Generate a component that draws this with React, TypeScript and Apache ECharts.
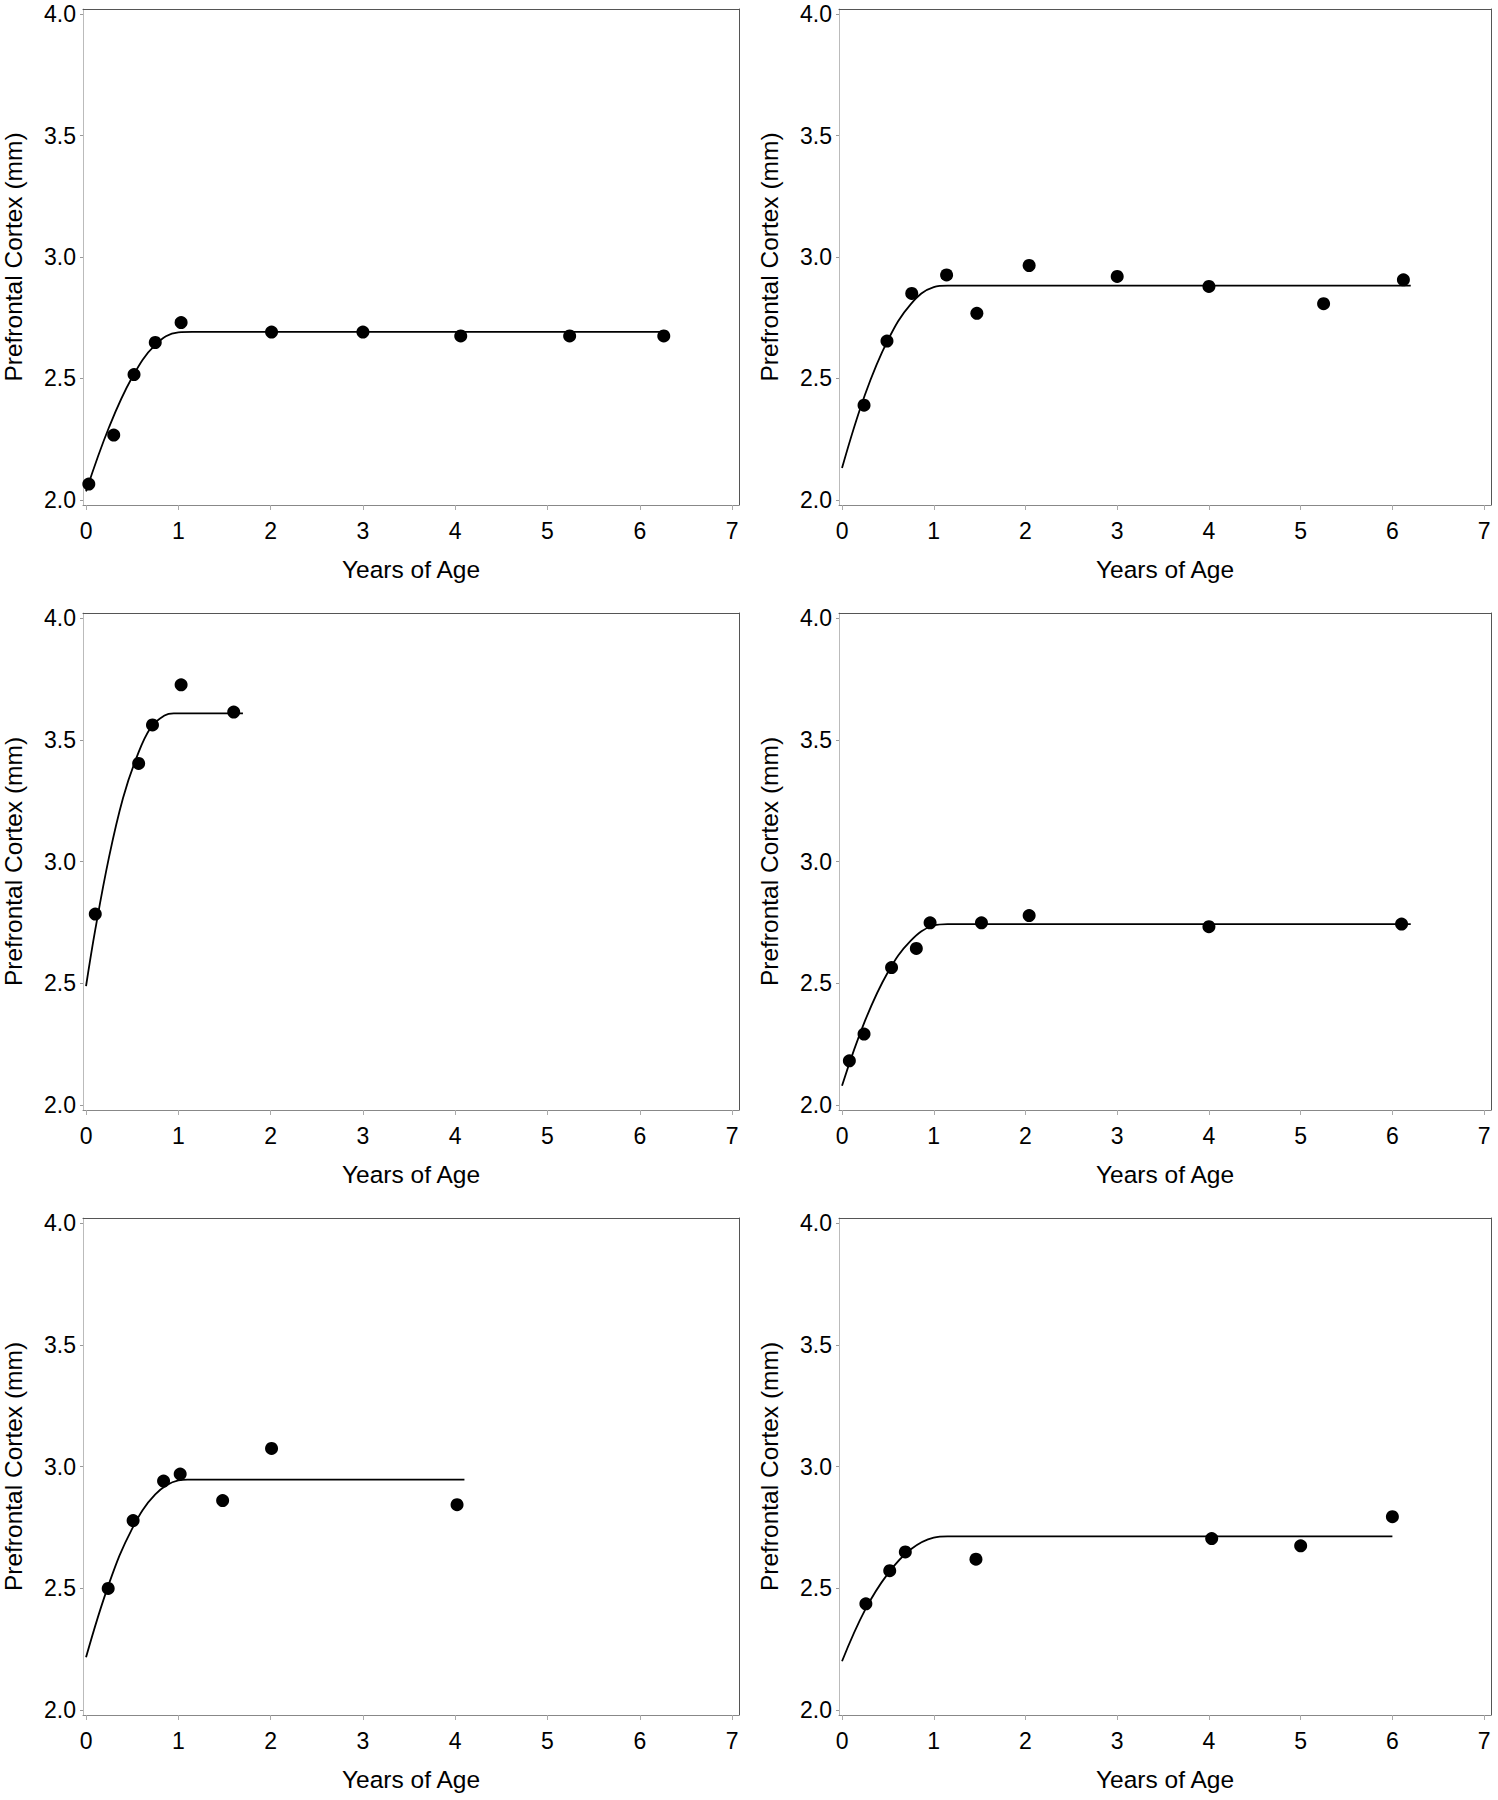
import React, { useEffect, useRef } from "react";
import * as echarts from "echarts";

const xTicks = [0, 1, 2, 3, 4, 5, 6, 7];
const yTicks = [2.0, 2.5, 3.0, 3.5, 4.0];
const xTitle = "Years of Age";
const yTitle = "Prefrontal Cortex (mm)";

// Panel A (top-left)
const agesA = [0.03, 0.3, 0.52, 0.75, 1.03, 2.01, 3.0, 4.06, 5.24, 6.26];
const cortexA = [2.065, 2.267, 2.516, 2.648, 2.73, 2.691, 2.691, 2.675, 2.675, 2.675];
const fitAgesA = [0, 0.25, 0.5, 0.75, 1.0, 1.15, 6.3];
const fitA = [2.035, 2.3, 2.505, 2.638, 2.69, 2.692, 2.692];

// Panel B (top-right)
const agesB = [0.24, 0.49, 0.76, 1.14, 1.47, 2.04, 3.0, 4.0, 5.25, 6.12];
const cortexB = [2.39, 2.654, 2.85, 2.926, 2.768, 2.965, 2.92, 2.879, 2.808, 2.906];
const fitAgesB = [0, 0.25, 0.5, 0.75, 1.0, 1.15, 6.2];
const fitB = [2.131, 2.433, 2.658, 2.806, 2.876, 2.882, 2.882];

// Panel C (middle-left)
const agesC = [0.1, 0.57, 0.72, 1.03, 1.6];
const cortexC = [2.784, 3.403, 3.561, 3.726, 3.614];
const fitAgesC = [0, 0.1, 0.25, 0.4, 0.55, 0.7, 0.85, 0.95, 1.7];
const fitC = [2.488, 2.72, 3.02, 3.26, 3.43, 3.55, 3.6, 3.609, 3.609];

// Panel D (middle-right)
const agesD = [0.08, 0.24, 0.54, 0.81, 0.96, 1.52, 2.04, 4.0, 6.1];
const cortexD = [2.181, 2.291, 2.564, 2.643, 2.748, 2.748, 2.778, 2.732, 2.743];
const fitAgesD = [0, 0.25, 0.5, 0.75, 1.0, 1.15, 6.2];
const fitD = [2.079, 2.345, 2.545, 2.675, 2.737, 2.743, 2.743];

// Panel E (bottom-left)
const agesE = [0.24, 0.51, 0.84, 1.02, 1.48, 2.01, 4.02];
const cortexE = [2.499, 2.778, 2.94, 2.969, 2.86, 3.074, 2.843];
const fitAgesE = [0, 0.25, 0.5, 0.75, 1.0, 1.1, 4.1];
const fitE = [2.216, 2.52, 2.745, 2.885, 2.943, 2.946, 2.946];

// Panel F (bottom-right)
const agesF = [0.26, 0.52, 0.69, 1.46, 4.03, 5.0, 6.0];
const cortexF = [2.436, 2.572, 2.649, 2.619, 2.704, 2.674, 2.794];
const fitAgesF = [0, 0.25, 0.5, 0.75, 1.0, 1.15, 6.0];
const fitF = [2.2, 2.41, 2.56, 2.66, 2.708, 2.713, 2.713];

const panels = [
  { ages: agesA, vals: cortexA, fx: fitAgesA, fy: fitA },
  { ages: agesB, vals: cortexB, fx: fitAgesB, fy: fitB },
  { ages: agesC, vals: cortexC, fx: fitAgesC, fy: fitC },
  { ages: agesD, vals: cortexD, fx: fitAgesD, fy: fitD },
  { ages: agesE, vals: cortexE, fx: fitAgesE, fy: fitE },
  { ages: agesF, vals: cortexF, fx: fitAgesF, fy: fitF },
];

const COLS = [
  { left: 83, width: 656 },
  { left: 839, width: 652 },
];
const ROWS = [
  { top: 9, height: 496 },
  { top: 613, height: 497 },
  { top: 1218, height: 497 },
];

const FONT = "Liberation Sans, Arial, sans-serif";
const X_MIN = -0.033;
const X_MAX = 7.075;
const Y_MIN = 1.979;
const Y_MAX = 4.021;

function buildOption() {
  const grid: any[] = [];
  const xAxis: any[] = [];
  const yAxis: any[] = [];
  const series: any[] = [];
  panels.forEach((p, i) => {
    const col = COLS[i % 2];
    const row = ROWS[Math.floor(i / 2)];
    grid.push({ left: col.left, width: col.width, top: row.top, height: row.height, show: false });
    xAxis.push({
      type: "value",
      gridIndex: i,
      min: X_MIN,
      max: X_MAX,
      position: "bottom",
      axisLine: { show: true, onZero: false, lineStyle: { color: "#888", width: 1 } },
      axisTick: { show: true, length: 5, customValues: xTicks, lineStyle: { color: "#aaa" } },
      axisLabel: {
        show: true,
        customValues: xTicks,
        fontSize: 23,
        color: "#000",
        fontFamily: FONT,
        margin: 14,
        formatter: (v: number) => String(Math.round(v)),
      },
      splitLine: { show: false },
      name: xTitle,
      nameLocation: "middle",
      nameGap: 52,
      nameTextStyle: { fontSize: 24.5, color: "#000", fontFamily: FONT },
    });
    xAxis.push({
      type: "value",
      gridIndex: i,
      min: X_MIN,
      max: X_MAX,
      position: "top",
      axisLine: { show: true, onZero: false, lineStyle: { color: "#555", width: 1 } },
      axisTick: { show: false },
      axisLabel: { show: false },
      splitLine: { show: false },
    });
    yAxis.push({
      type: "value",
      gridIndex: i,
      min: Y_MIN,
      max: Y_MAX,
      position: "left",
      axisLine: { show: true, onZero: false, lineStyle: { color: "#bbb", width: 1 } },
      axisTick: { show: true, length: 3, customValues: yTicks, lineStyle: { color: "#999" } },
      axisLabel: {
        show: true,
        customValues: yTicks,
        fontSize: 23,
        color: "#000",
        fontFamily: FONT,
        margin: 7,
        formatter: (v: number) => v.toFixed(1),
      },
      splitLine: { show: false },
      name: yTitle,
      nameLocation: "middle",
      nameGap: 57,
      nameTextStyle: { fontSize: 24.5, color: "#000", fontFamily: FONT },
    });
    yAxis.push({
      type: "value",
      gridIndex: i,
      min: Y_MIN,
      max: Y_MAX,
      position: "right",
      axisLine: { show: true, onZero: false, lineStyle: { color: "#555", width: 1 } },
      axisTick: { show: false },
      axisLabel: { show: false },
      splitLine: { show: false },
    });
    series.push({
      type: "line",
      xAxisIndex: 2 * i,
      yAxisIndex: 2 * i,
      data: p.fx.map((x, k) => [x, p.fy[k]]),
      showSymbol: false,
      smooth: 0.4,
      lineStyle: { color: "#000", width: 1.8 },
      silent: true,
      z: 2,
    });
    series.push({
      type: "scatter",
      xAxisIndex: 2 * i,
      yAxisIndex: 2 * i,
      data: p.ages.map((x, k) => [x, p.vals[k]]),
      symbol: "circle",
      symbolSize: 13,
      itemStyle: { color: "#000", opacity: 1 },
      z: 3,
    });
  });
  return {
    animation: false,
    backgroundColor: "#fff",
    grid,
    xAxis,
    yAxis,
    series,
  };
}

export default function App() {
  const ref = useRef<HTMLDivElement>(null);
  useEffect(() => {
    if (!ref.current) return;
    const chart = echarts.init(ref.current, undefined, { renderer: "svg" });
    chart.setOption(buildOption() as any);
    return () => chart.dispose();
  }, []);
  return (
    <div
      ref={ref}
      style={{ position: "absolute", left: 0, top: 0, width: 1498, height: 1800, background: "#fff" }}
    />
  );
}
